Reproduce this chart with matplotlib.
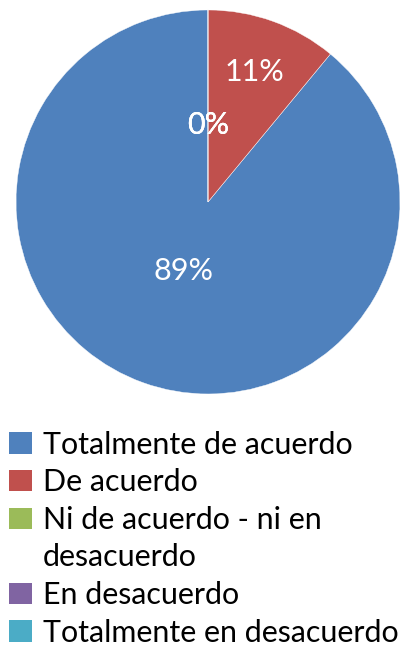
import numpy as np
import matplotlib
matplotlib.use("Agg")
import matplotlib.pyplot as plt
from matplotlib.patches import Patch

categories = ["Totalmente de acuerdo", "De acuerdo", "Ni de acuerdo - ni en desacuerdo",
              "En desacuerdo", "Totalmente en desacuerdo"]
values = [89, 11, 0, 0, 0]
pct_labels = ["89%", "11%", "0%", "0%", "0%"]
colors = ["#4F81BD", "#C0504D", "#9BBB59", "#8064A2", "#4BACC6"]

plt.rcParams["font.family"] = ["Lato", "DejaVu Sans"]

fig = plt.figure(figsize=(4, 6.48), dpi=100)
ax = fig.add_axes([0.04, 0.392, 0.96, 0.5926])

wedges, _ = ax.pie(values, colors=colors, startangle=90, counterclock=True,
                   wedgeprops=dict(edgecolor="white", linewidth=0.3))
ax.set_xlim(-1, 1)
ax.set_ylim(-1, 1)
ax.set_aspect("equal")

# label distance from centre, per slice
dists = [0.38, 0.72, 0.40, 0.40, 0.40]
for w, lab, d in zip(wedges, pct_labels, dists):
    mid = np.deg2rad((w.theta1 + w.theta2) / 2)
    ax.text(d * np.cos(mid), d * np.sin(mid), lab, color="white", fontsize=22,
            ha="center", va="center")

# legend: the long label wraps onto a second row, square only on the first line
handles, labels = [], []
for c, cat in zip(colors, categories):
    if cat.startswith("Ni de"):
        handles += [Patch(facecolor=c), Patch(facecolor="none", edgecolor="none")]
        labels += ["Ni de acuerdo - ni en", "desacuerdo"]
    else:
        handles.append(Patch(facecolor=c))
        labels.append(cat)

fig.legend(handles, labels, loc="upper left", bbox_to_anchor=(0.015, 0.340),
           frameon=False, fontsize=21.9, handlelength=0.75, handleheight=0.7,
           handletextpad=0.36, labelspacing=0.315, borderaxespad=0, borderpad=0.1)

fig.savefig("out.png", dpi=100)
